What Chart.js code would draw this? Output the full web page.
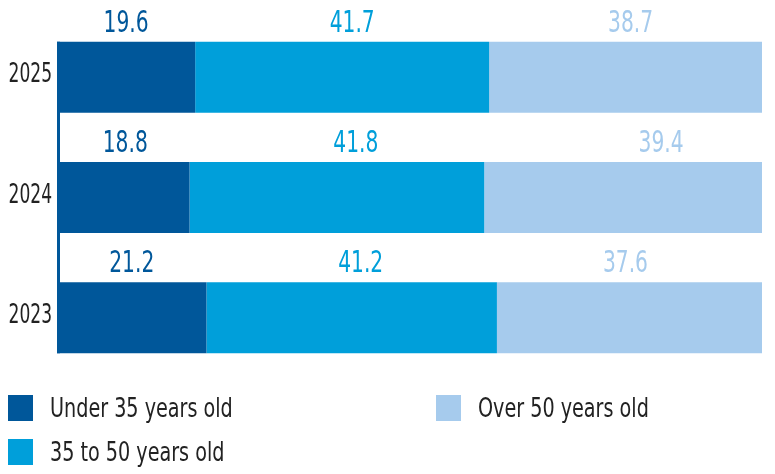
<!DOCTYPE html>
<html>
<head>
<meta charset="utf-8">
<script src="https://cdn.jsdelivr.net/npm/chart.js@4"></script>
<style>
  html, body { margin: 0; padding: 0; background: #fff; }
  #wrap { position: relative; width: 775px; height: 474px; }
  #legend {
    position: absolute; left: 8px; top: 395px;
    display: grid; grid-template-rows: 26px 26px; row-gap: 18px;
    grid-template-columns: 428px auto; grid-auto-flow: column;
    font-family: "DejaVu Sans Condensed", "Liberation Sans Narrow", sans-serif;
    font-size: 26px; color: #222;
  }
  .item { display: flex; align-items: center; height: 26px; white-space: nowrap; }
  .box { width: 25px; height: 26px; margin-right: 17px; flex: none; }
  .txt { display: inline-block; transform: scaleX(0.82); transform-origin: left center; }
</style>
</head>
<body>
<div id="wrap">
  <canvas id="chart" width="775" height="474"></canvas>
  <div id="legend"></div>
</div>
<script>
const years = ["2025", "2024", "2023"];
const under35 = [19.6, 18.8, 21.2];
const from35to50 = [41.7, 41.8, 41.2];
const over50 = [38.7, 39.4, 37.6];

const seriesNames = ["Under 35 years old", "35 to 50 years old", "Over 50 years old"];
const colors = ["#00579a", "#009fda", "#a6cbed"];

const FONT = "'DejaVu Sans Condensed', 'Liberation Sans Narrow', sans-serif";

// condensed text: the installed fonts are wider than the original one
function narrowText(ctx, text, x, y, sx) {
  ctx.save();
  ctx.translate(x, y);
  ctx.scale(sx, 1);
  ctx.fillText(text, 0, 0);
  ctx.restore();
}

// value labels above each segment, in the segment's colour
const valueLabels = {
  id: "valueLabels",
  afterDatasetsDraw(chart, args, opts) {
    const ctx = chart.ctx;
    const shift = opts.shift || [];
    ctx.save();
    ctx.font = "30px " + FONT;
    ctx.textAlign = "center";
    ctx.textBaseline = "alphabetic";
    chart.data.datasets.forEach((ds, i) => {
      chart.getDatasetMeta(i).data.forEach((bar, j) => {
        ctx.fillStyle = ds.backgroundColor;
        const dx = (shift[i] && shift[i][j]) || 0;
        const x = (bar.base + bar.x) / 2 + dx;
        const y = bar.y - bar.height / 2 - 10;
        narrowText(ctx, ds.data[j].toFixed(1), x, y, 0.75);
      });
    });
    ctx.restore();
  }
};

// year labels and the short left axis line
const yearAxis = {
  id: "yearAxis",
  afterDatasetsDraw(chart) {
    const ctx = chart.ctx;
    const yScale = chart.scales.y;
    ctx.save();
    ctx.font = "26px " + FONT;
    ctx.fillStyle = "#222";
    ctx.textAlign = "right";
    ctx.textBaseline = "alphabetic";
    chart.data.labels.forEach((lab, i) => {
      narrowText(ctx, lab, yScale.right - 5, yScale.getPixelForTick(i) + 5, 0.73);
    });

    const bars = chart.getDatasetMeta(0).data;
    const first = bars[0], last = bars[bars.length - 1];
    ctx.strokeStyle = colors[0];
    ctx.lineWidth = 3;
    ctx.beginPath();
    ctx.moveTo(chart.chartArea.left + 1.5, first.y - first.height / 2);
    ctx.lineTo(chart.chartArea.left + 1.5, last.y + last.height / 2);
    ctx.stroke();
    ctx.restore();
  }
};

const chart = new Chart(document.getElementById("chart"), {
  type: "bar",
  data: {
    labels: years,
    datasets: [under35, from35to50, over50].map((d, i) => ({
      label: seriesNames[i],
      data: d,
      backgroundColor: colors[i],
      borderWidth: 0,
      categoryPercentage: 1,
      barPercentage: 0.59
    }))
  },
  options: {
    indexAxis: "y",
    responsive: false,
    animation: false,
    layout: { padding: { top: 17, bottom: 96, right: 13, left: 0 } },
    plugins: {
      legend: { display: false },
      tooltip: { enabled: false },
      // the original labels are not quite centred on their segments
      valueLabels: { shift: [[0, 2, 0], [10, 19, 9], [5, 38, -4]] }
    },
    scales: {
      x: { stacked: true, min: 0, max: 100, display: false },
      y: {
        stacked: true,
        grid: { display: false },
        border: { display: false },
        ticks: { display: false },
        afterFit(scale) { scale.width = 57; }
      }
    }
  },
  plugins: [valueLabels, yearAxis]
});

// legend in two columns, filled column by column
const legend = document.getElementById("legend");
chart.data.datasets.forEach(ds => {
  const item = document.createElement("div");
  item.className = "item";
  item.innerHTML = '<span class="box" style="background:' + ds.backgroundColor + '"></span>' +
    '<span class="txt">' + ds.label + '</span>';
  legend.appendChild(item);
});
</script>
</body>
</html>
